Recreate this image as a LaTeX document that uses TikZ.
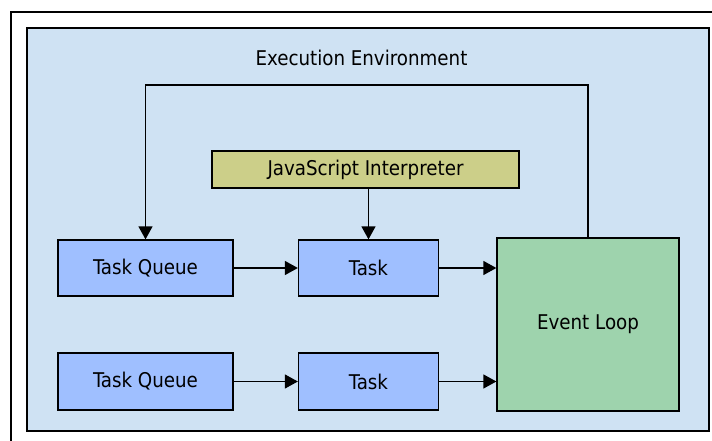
\documentclass[tikz,border=0pt]{standalone}
\usepackage{fontspec}
\setmainfont{DejaVu Sans Condensed}
\usetikzlibrary{arrows.meta}
\definecolor{envfill}{HTML}{CFE2F3}
\definecolor{taskfill}{HTML}{9FBFFF}
\definecolor{loopfill}{HTML}{9ED3AD}
\definecolor{jsfill}{HTML}{CCCF89}
\tikzset{
  lbl/.style={font=\fontsize{20.3}{24}\selectfont, text=black},
  box/.style={draw=black, line width=1.3pt, inner sep=0pt, lbl},
  taskbox/.style={box, fill=taskfill},
  conn/.style={draw=black, line width=1.3pt, -{Triangle[length=13pt,width=14pt]}},
}
\begin{document}
\begin{tikzpicture}[x=1pt,y=-1pt]
\useasboundingbox (0,0) rectangle (712,441);
% outer open frame
\draw[line width=1.2pt] (11,441) -- (11,12) -- (712,12);
% environment
\node[draw=black, line width=1.6pt, fill=envfill, minimum width=682pt, minimum height=403pt, inner sep=0pt] (env) at (368,229.5) {};
\node[lbl] (title) at (361.5,58) {Execution Environment};
% nodes
\node[box, fill=jsfill, minimum width=307pt, minimum height=37pt] (js) at (365.5,169.5) {JavaScript Interpreter};
\node[taskbox, minimum width=175pt, minimum height=56pt] (tq1) at (145.5,268) {Task Queue};
\node[taskbox, minimum width=140pt, minimum height=56pt] (t1) at (368.5,268) {Task};
\node[taskbox, minimum width=175pt, minimum height=57pt] (tq2) at (145.5,381.5) {Task Queue};
\node[taskbox, minimum width=140pt, minimum height=57pt] (t2) at (368.5,381.5) {Task};
\node[box, fill=loopfill, minimum width=182pt, minimum height=173pt] (el) at (588,324.5) {Event Loop};
\coordinate (top) at (0,85);
% connectors
\draw[conn] (tq1) -- (t1);
\draw[conn] (t1.east) -- (t1.east -| el.west);
\draw[conn] (tq2) -- (t2);
\draw[conn] (t2.east) -- (t2.east -| el.west);
\draw[conn] (t1.north |- js.south) -- (t1.north);
\draw[conn] (el.north) -- (el.north |- top) -- (tq1.north |- top) -- (tq1.north);
\end{tikzpicture}
\end{document}
